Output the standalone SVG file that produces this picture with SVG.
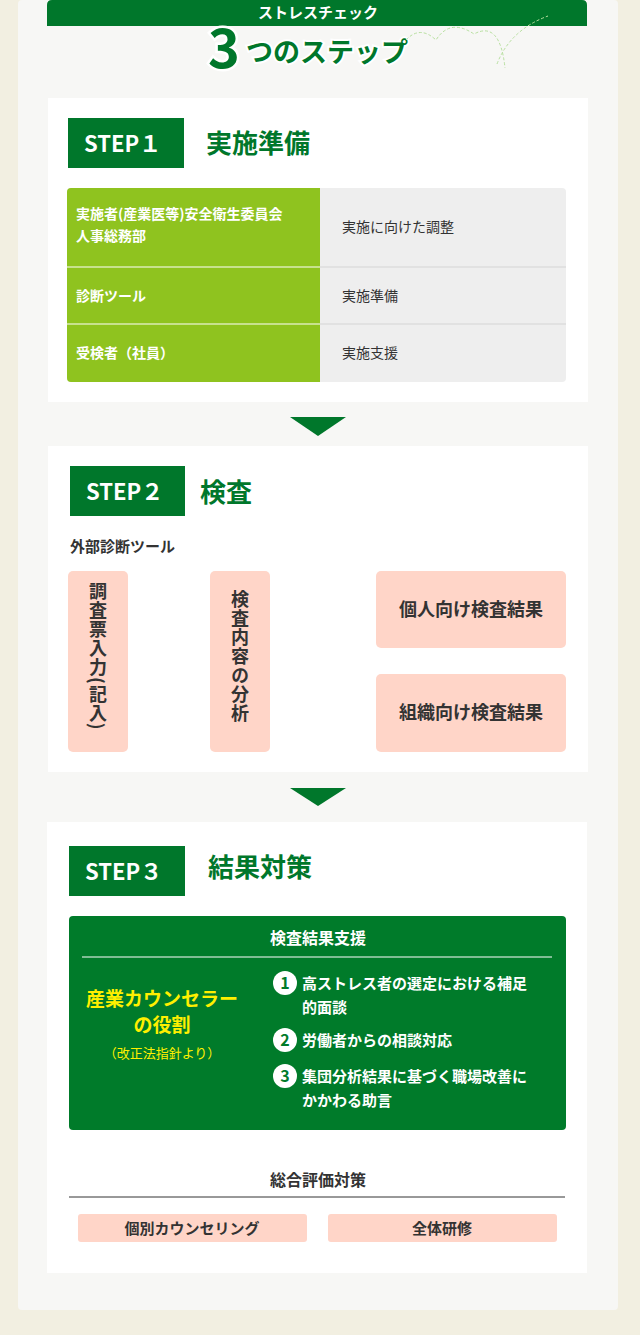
<svg xmlns="http://www.w3.org/2000/svg" width="640" height="1335" viewBox="0 0 640 1335">
<style>
text{font-family:"Noto Sans CJK JP","Noto Sans",sans-serif}
.card{fill:#fff}
.h{font-size:26px;font-weight:bold;fill:#00772b}
.tag{fill:#00772b}
.tagt{font-size:22px;font-weight:bold;fill:#fff}
.pink{fill:#ffd5c8}
.lbl{font-size:14px;font-weight:bold;fill:#fff}
.cell{font-size:14px;fill:#333}
.pt{font-size:18px;font-weight:bold;fill:#333}
.conn{stroke:#c8c8c8;stroke-width:5}
.arr{fill:#00772b}
.w{font-size:15px;font-weight:bold;fill:#fff}
</style>
<rect width="640" height="1335" fill="#f2efe1"/>
<rect x="18" y="0" width="600" height="1310" rx="4" fill="#f7f7f5"/>
<g id="header">
<path d="M47 26V5Q47 0 52 0H582Q587 0 587 5V26Z" fill="#00772b"/>
<text x="318" y="18" text-anchor="middle" font-size="15" font-weight="bold" fill="#fff">ストレスチェック</text>
<text x="208" y="68" font-size="54" font-weight="bold" fill="#00772b" stroke="#fff" stroke-width="5" paint-order="stroke">3</text>
<text x="246" y="62" font-size="27" font-weight="bold" fill="#00772b" stroke="#fff" stroke-width="4" paint-order="stroke">つのステップ</text>
<path d="M406 40Q420 25 436 40Q450 18 474 34Q500 20 505 68M497 64Q510 30 548 16" fill="none" stroke="#b8e0a0" stroke-width="1" stroke-dasharray="3,2"/>
</g>
<g id="step1">
<rect class="card" x="48" y="98" width="540" height="304"/>
<rect class="tag" x="68" y="118" width="116" height="50"/>
<text class="tagt" x="84" y="152">STEP１</text>
<text class="h" x="206" y="153">実施準備</text>
<rect x="67" y="188" width="499" height="194" rx="4" fill="#eeeeee"/>
<path d="M71 188H320V382H71Q67 382 67 378V192Q67 188 71 188Z" fill="#8fc31f"/>
<path d="M67 267H566M67 324H566" stroke="#fff" stroke-width="1"/>
<path d="M320 267H566M320 324H566" stroke="#ccc" stroke-width="1"/>
<text class="lbl" x="76" y="219">実施者(産業医等)安全衛生委員会</text>
<text class="lbl" x="76" y="241">人事総務部</text>
<text class="cell" x="342" y="232">実施に向けた調整</text>
<text class="lbl" x="76" y="301">診断ツール</text>
<text class="cell" x="342" y="301">実施準備</text>
<text class="lbl" x="76" y="358">受検者（社員）</text>
<text class="cell" x="342" y="358">実施支援</text>
</g>
<g id="connectors">
<path class="arr" d="M290 417H346L318 436Z"/>
<path class="arr" d="M290 788H346L318 806Z"/>
<path class="arr" d="M290 1141H346L318 1160Z"/>
<path class="conn" d="M128 657H210M270 613H376M270 711H376"/>
</g>
<g id="step2">
<rect class="card" x="48" y="446" width="540" height="326"/>
<rect class="tag" x="70" y="466" width="115" height="50"/>
<text class="tagt" x="86" y="500">STEP２</text>
<text class="h" x="200" y="502">検査</text>
<text x="70" y="552" font-size="15" font-weight="bold" fill="#333">外部診断ツール</text>
<rect class="pink" x="68" y="571" width="60" height="181" rx="5"/>
<text class="pt" x="98" y="582" style="writing-mode:vertical-rl" letter-spacing="1">調査票入力(記入)</text>
<rect class="pink" x="210" y="571" width="60" height="181" rx="5"/>
<text class="pt" x="240" y="590" style="writing-mode:vertical-rl" font-weight="normal" letter-spacing="1">検査内容の分析</text>
<rect class="pink" x="376" y="571" width="190" height="77" rx="5"/>
<text class="pt" x="471" y="616" text-anchor="middle">個人向け検査結果</text>
<rect class="pink" x="376" y="674" width="190" height="78" rx="5"/>
<text class="pt" x="471" y="719" text-anchor="middle">組織向け検査結果</text>
</g>
<g id="step3">
<rect class="card" x="47" y="822" width="540" height="451"/>
<rect class="tag" x="69" y="846" width="116" height="50"/>
<text class="tagt" x="85" y="880">STEP３</text>
<text class="h" x="208" y="877">結果対策</text>
<rect x="69" y="916" width="497" height="214" rx="4" fill="#007b2a"/>
<text x="318" y="944" text-anchor="middle" font-size="16" font-weight="bold" fill="#fff">検査結果支援</text>
<path d="M82 957H552" stroke="#fff" stroke-width="1"/>
<text x="162" y="1006" text-anchor="middle" font-size="19" font-weight="bold" fill="#fff000">産業カウンセラー</text>
<text x="162" y="1032" text-anchor="middle" font-size="19" font-weight="bold" fill="#fff000">の役割</text>
<text x="162" y="1058" text-anchor="middle" font-size="13" fill="#fff000">（改正法指針より）</text>
<g fill="#fff"><circle cx="285" cy="983" r="12"/><circle cx="285" cy="1040" r="12"/><circle cx="285" cy="1076" r="12"/></g>
<g font-size="16" font-weight="bold" fill="#007b2a" text-anchor="middle"><text x="285" y="989">1</text><text x="285" y="1046">2</text><text x="285" y="1082">3</text></g>
<text class="w" x="302" y="989">高ストレス者の選定における補足</text>
<text class="w" x="302" y="1013">的面談</text>
<text class="w" x="302" y="1046">労働者からの相談対応</text>
<text class="w" x="302" y="1082">集団分析結果に基づく職場改善に</text>
<text class="w" x="302" y="1106">かかわる助言</text>
<text x="318" y="1186" text-anchor="middle" font-size="16" font-weight="bold" fill="#333">総合評価対策</text>
<path d="M69 1197H565" stroke="#333" stroke-width="1"/>
<rect class="pink" x="78" y="1214" width="229" height="28" rx="3"/>
<text x="192" y="1234" text-anchor="middle" font-size="15" font-weight="bold" fill="#333">個別カウンセリング</text>
<rect class="pink" x="328" y="1214" width="229" height="28" rx="3"/>
<text x="442" y="1234" text-anchor="middle" font-size="15" font-weight="bold" fill="#333">全体研修</text>
</g>
</svg>
